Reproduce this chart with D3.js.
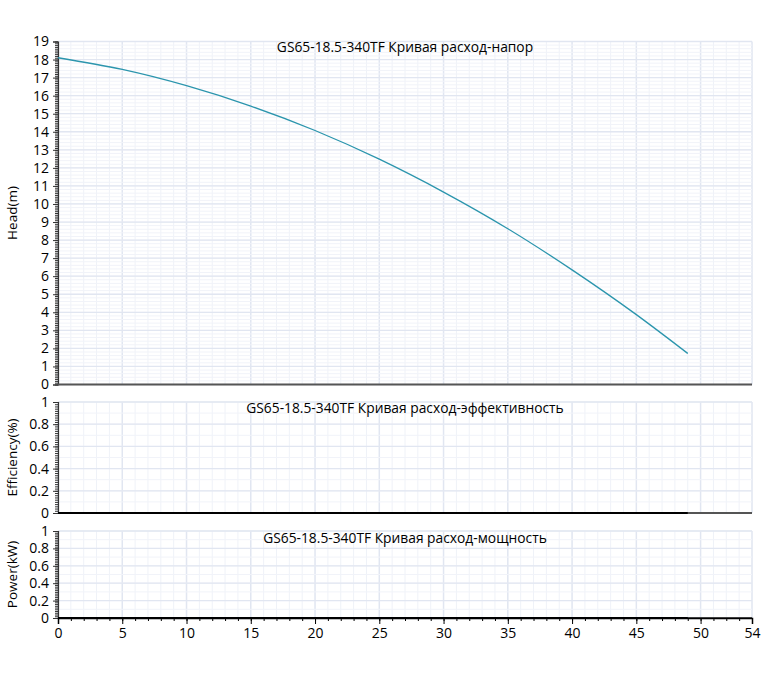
<!DOCTYPE html>
<html><head><meta charset="utf-8">
<script src="https://cdn.jsdelivr.net/npm/d3@7"></script>
<style>
body{margin:0;background:#fff;}
svg{display:block;font-family:"Open Sans","Noto Sans",sans-serif;}
</style></head>
<body>
<svg id="c" width="774" height="681"></svg>
<script>
const flow = [0, 5, 10, 15, 20, 25, 30, 35, 40, 45, 49];
const head = [18.1, 17.45, 16.55, 15.42, 14.07, 12.48, 10.66, 8.63, 6.35, 3.87, 1.72];
const efficiency = [0, 0, 0, 0, 0, 0, 0, 0, 0, 0, 0];
const power = [0, 0, 0, 0, 0, 0, 0, 0, 0, 0, 0];
const xTicks = [0, 5, 10, 15, 20, 25, 30, 35, 40, 45, 50, 54];
const headTicks = d3.range(0, 20, 1);
const unitTicks = [0, 0.2, 0.4, 0.6, 0.8, 1];
const titles = ["GS65-18.5-340TF Кривая расход-напор", "GS65-18.5-340TF Кривая расход-эффективность", "GS65-18.5-340TF Кривая расход-мощность"];
const yLabels = ["Head(m)", "Efficiency(%)", "Power(kW)"];

const svg = d3.select("#c");
const x = d3.scaleLinear().domain([0, 54]).range([58, 752]);

const unitFmt = d => d === 0 || d === 1 ? d3.format("d")(d) : d3.format(".1f")(d);
const panels = [
  {y: d3.scaleLinear().domain([0, 19]).range([384.5, 41.5]), ticks: headTicks, minorStep: 0.2, tickMinor: 0.1, fmt: d3.format("d"), data: head, color: "#2b95ad", width: 1.3, titleY: 52},
  {y: d3.scaleLinear().domain([0, 1]).range([513, 402]), ticks: unitTicks, minorStep: 0.1, tickMinor: 0.02, fmt: unitFmt, data: efficiency, color: "#000", width: 2, titleY: 413},
  {y: d3.scaleLinear().domain([0, 1]).range([618, 531]), ticks: unitTicks, minorStep: 0.1, tickMinor: 0.02, fmt: unitFmt, data: power, color: "#000", width: 2, titleY: 543}
];

panels.forEach((p, i) => {
  const g = svg.append("g");
  const [y0, y1] = p.y.domain();
  const top = p.y.range()[1], bot = p.y.range()[0];
  g.selectAll(".vmin").data(d3.range(0, 55, 1)).join("line")
    .attr("x1", d => x(d)).attr("x2", d => x(d)).attr("y1", top).attr("y2", bot)
    .attr("stroke", d => d % 5 === 0 || d === 54 ? "#e1e6f1" : "#eff2f8").attr("stroke-width", d => d % 5 === 0 || d === 54 ? 1.5 : 1);
  const hmin = d3.range(y0, y1 + 1e-9, p.minorStep).map(v => +v.toFixed(4));
  g.selectAll(".hmin").data(hmin).join("line")
    .attr("x1", x(0)).attr("x2", x(54)).attr("y1", d => p.y(d)).attr("y2", d => p.y(d))
    .attr("stroke", "#f1f3f9").attr("stroke-width", 1);
  g.selectAll(".hmaj").data(p.ticks).join("line")
    .attr("x1", x(0)).attr("x2", x(54)).attr("y1", d => p.y(d)).attr("y2", d => p.y(d))
    .attr("stroke", "#e1e6f1").attr("stroke-width", 1.3);

  const ymin = d3.range(y0, y1 + 1e-9, p.tickMinor).map(v => +v.toFixed(4));
  g.append("g").attr("transform", `translate(${x(0)},0)`)
    .call(d3.axisLeft(p.y).tickValues(ymin).tickSize(3).tickFormat(""))
    .call(a => a.select(".domain").remove())
    .call(a => a.selectAll("line").attr("stroke", "#333"));
  g.append("g").attr("transform", `translate(${x(0)},0)`)
    .call(d3.axisLeft(p.y).tickValues(p.ticks).tickSize(5).tickFormat(p.fmt).tickPadding(4))
    .call(a => a.select(".domain").attr("stroke", "#333").attr("stroke-width", 1.2))
    .call(a => a.selectAll("line").attr("stroke", "#333"))
    .call(a => a.selectAll("text").attr("font-size", 14).attr("fill", "#000").attr("font-family", "'Open Sans','Noto Sans',sans-serif"));

  g.append("line").attr("x1", x(0)).attr("x2", x(54)).attr("y1", bot).attr("y2", bot)
    .attr("stroke", "#555").attr("stroke-width", 2);

  const pts = flow.map((f, k) => [f, p.data[k]]);
  g.append("path").datum(pts)
    .attr("d", d3.line().x(d => x(d[0])).y(d => p.y(d[1])).curve(d3.curveMonotoneX))
    .attr("fill", "none").attr("stroke", p.color).attr("stroke-width", p.width);

  g.append("text").attr("x", (x(0) + x(54)) / 2).attr("y", p.titleY)
    .attr("text-anchor", "middle").attr("font-size", 13.8).attr("fill", "#000").text(titles[i]);
  g.append("text").attr("transform", `translate(17,${(top + bot) / 2}) rotate(-90)`)
    .attr("text-anchor", "middle").attr("font-size", 13.5).attr("fill", "#000").text(yLabels[i]);
});

svg.append("g").attr("transform", `translate(0,${panels[2].y.range()[0]})`)
  .call(d3.axisBottom(x).tickValues(d3.range(0, 55, 1)).tickSize(3).tickFormat(""))
  .call(a => a.select(".domain").remove())
  .call(a => a.selectAll("line").attr("stroke", "#000"));
svg.append("g").attr("transform", `translate(0,${panels[2].y.range()[0]})`)
  .call(d3.axisBottom(x).tickValues(xTicks).tickSize(6).tickPadding(4))
  .call(a => a.select(".domain").attr("stroke", "#000").attr("stroke-width", 1.5))
  .call(a => a.selectAll("line").attr("stroke", "#000"))
  .call(a => a.selectAll("text").attr("font-size", 14).attr("fill", "#000").attr("font-family", "'Open Sans','Noto Sans',sans-serif"));
</script>
</body></html>
